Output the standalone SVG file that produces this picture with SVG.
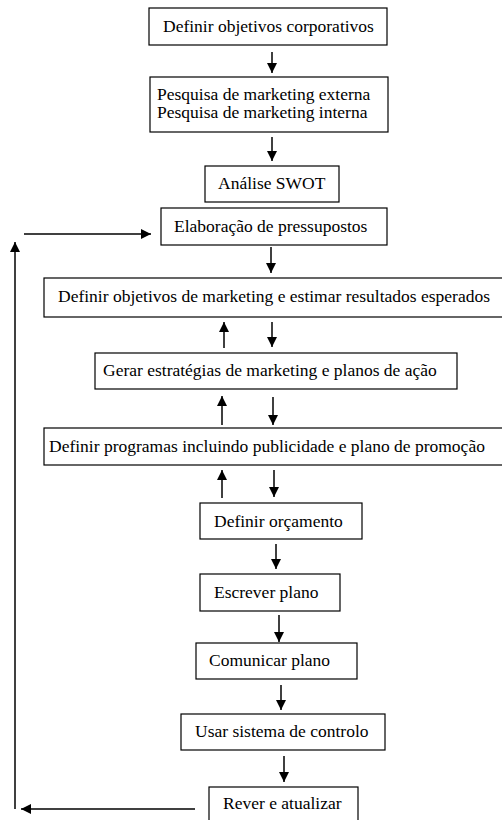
<svg xmlns="http://www.w3.org/2000/svg" width="502" height="820" viewBox="0 0 502 820">
<style>
.b{fill:#fff;stroke:#000;stroke-width:1.2}
text{font-family:'Liberation Serif','Times New Roman','DejaVu Serif',serif;font-size:17.5px;fill:#000}
.c line{stroke:#000;stroke-width:1.5}
</style>
<defs>
<marker id="ah" viewBox="0 0 10 10" refX="10" refY="5" markerWidth="10" markerHeight="10" markerUnits="userSpaceOnUse" orient="auto">
<path d="M0,0 L10,5 L0,10 Z" fill="#000"/>
</marker>
</defs>
<rect width="502" height="820" fill="#fff"/>
<g class="c">
<line x1="272" y1="52" x2="272" y2="73" marker-end="url(#ah)"/>
<line x1="272" y1="137" x2="272" y2="161" marker-end="url(#ah)"/>
<line x1="24" y1="234" x2="151" y2="234" marker-end="url(#ah)"/>
<line x1="15" y1="809" x2="15" y2="242" marker-end="url(#ah)"/>
<line x1="271" y1="247" x2="271" y2="273" marker-end="url(#ah)"/>
<line x1="224" y1="348" x2="224" y2="322" marker-end="url(#ah)"/>
<line x1="272" y1="322" x2="272" y2="347" marker-end="url(#ah)"/>
<line x1="222" y1="425" x2="222" y2="396" marker-end="url(#ah)"/>
<line x1="273" y1="397" x2="273" y2="425" marker-end="url(#ah)"/>
<line x1="222" y1="498" x2="222" y2="470" marker-end="url(#ah)"/>
<line x1="274" y1="470" x2="274" y2="497" marker-end="url(#ah)"/>
<line x1="276" y1="544" x2="276" y2="569" marker-end="url(#ah)"/>
<line x1="279" y1="615" x2="279" y2="642" marker-end="url(#ah)"/>
<line x1="281" y1="685" x2="281" y2="710" marker-end="url(#ah)"/>
<line x1="284" y1="756" x2="284" y2="782" marker-end="url(#ah)"/>
<line x1="195" y1="809" x2="21" y2="809" marker-end="url(#ah)"/>
</g>
<g id="n1"><rect class="b" x="149" y="8" width="238" height="37"/><text x="163" y="32">Definir objetivos corporativos</text></g>
<g id="n2"><rect class="b" x="150" y="77" width="238" height="55"/><text x="157" y="100">Pesquisa de marketing externa</text><text x="157" y="118">Pesquisa de marketing interna</text></g>
<g id="n3"><rect class="b" x="205" y="166" width="134" height="36"/><text x="218" y="189">Análise SWOT</text></g>
<g id="n4"><rect class="b" x="161" y="208" width="226" height="37"/><text x="174" y="232">Elaboração de pressupostos</text></g>
<g id="n5"><rect class="b" x="44" y="278" width="459" height="39"/><text x="58" y="302">Definir objetivos de marketing e estimar resultados esperados</text></g>
<g id="n6"><rect class="b" x="95" y="353" width="362" height="36"/><text x="103" y="376">Gerar estratégias de marketing e planos de ação</text></g>
<g id="n7"><rect class="b" x="44" y="428" width="459" height="37"/><text x="49" y="452">Definir programas incluindo publicidade e plano de promoção</text></g>
<g id="n8"><rect class="b" x="200" y="503" width="162" height="36"/><text x="214" y="527">Definir orçamento</text></g>
<g id="n9"><rect class="b" x="200" y="574" width="140" height="37"/><text x="214" y="598">Escrever plano</text></g>
<g id="n10"><rect class="b" x="196" y="643" width="161" height="36"/><text x="209" y="666">Comunicar plano</text></g>
<g id="n11"><rect class="b" x="181" y="714" width="204" height="36"/><text x="195" y="737">Usar sistema de controlo</text></g>
<g id="n12"><rect class="b" x="209" y="787" width="149" height="40"/><text x="223" y="809">Rever e atualizar</text></g>
</svg>
